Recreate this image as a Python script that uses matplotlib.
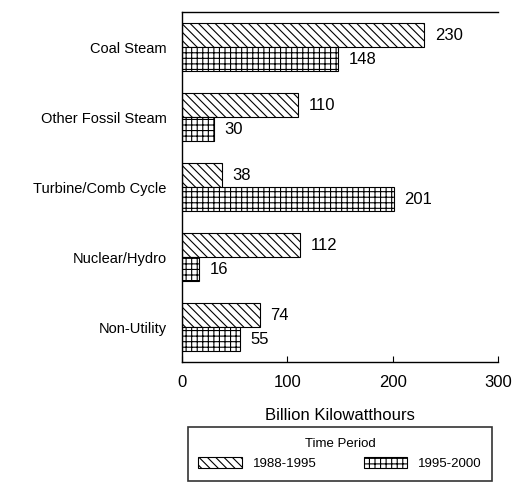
import matplotlib
matplotlib.use("Agg")
import matplotlib.pyplot as plt
import numpy as np

plt.rcParams['font.family'] = ['Liberation Sans', 'DejaVu Sans']
plt.rcParams['hatch.linewidth'] = 0.8

categories = ['Coal Steam', 'Other Fossil Steam', 'Turbine/Comb Cycle', 'Nuclear/Hydro', 'Non-Utility']
period_1 = [230, 110, 38, 112, 74]
period_2 = [148, 30, 201, 16, 55]
labels = ['1988-1995', '1995-2000']

fig = plt.figure(figsize=(5.15, 4.84), dpi=100)
ax = fig.add_axes([0.3534, 0.252, 0.6136, 0.723])

y = np.arange(len(categories))
h = 0.343
b1 = ax.barh(y - h / 2, period_1, height=h, color='white', edgecolor='black',
             hatch='\\\\\\\\', linewidth=0.8, label=labels[0])
b2 = ax.barh(y + h / 2, period_2, height=h, color='white', edgecolor='black',
             hatch='+++', linewidth=0.8, label=labels[1])

# value labels next to each bar
for bars, vals in ((b1, period_1), (b2, period_2)):
    for bar, v in zip(bars, vals):
        ax.text(v + 10, bar.get_y() + bar.get_height() / 2, str(v),
                va='center', ha='left', fontsize=12)

ax.set_ylim(len(categories) - 0.5, -0.5)
ax.set_xlim(0, 300)
ax.set_yticks(y)
ax.set_yticklabels(categories, fontsize=10.5)
ax.tick_params(axis='y', length=0, pad=11)
ax.set_xticks([0, 100, 200, 300])
ax.tick_params(axis='x', labelsize=12, direction='in', length=4, pad=9)
ax.set_xlabel('Billion Kilowatthours', fontsize=12, labelpad=13)
ax.spines['right'].set_visible(False)
for s in ('left', 'top', 'bottom'):
    ax.spines[s].set_linewidth(1.0)

leg = fig.legend(handles=[b1, b2], labels=labels, title='Time Period', ncol=2,
                 loc='center', bbox_to_anchor=(0.66, 0.062),
                 bbox_transform=fig.transFigure, fontsize=9.5, title_fontsize=9.5,
                 frameon=True, fancybox=False, shadow=False, edgecolor='black',
                 handlelength=3.3, handleheight=1.0, columnspacing=3.6,
                 borderpad=0.8, borderaxespad=0)
leg.get_frame().set_linewidth(1.2)

fig.savefig('out.png', dpi=100)
